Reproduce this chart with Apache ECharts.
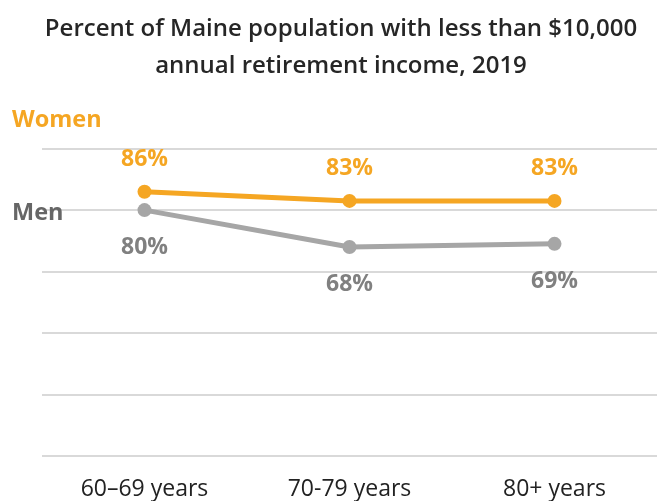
<!DOCTYPE html>
<html>
<head>
<meta charset="utf-8">
<script src="https://cdn.jsdelivr.net/npm/echarts@6/dist/echarts.min.js"></script>
<style>
html,body{margin:0;padding:0;background:#fff;}
#chart{width:657px;height:501px;}
</style>
</head>
<body>
<div id="chart"></div>
<script>
const titleText = 'Percent of Maine population with less than $10,000\nannual retirement income, 2019';
const categories = ['60\u201369 years', '70-79 years', '80+ years'];
const womenValues = [86, 83, 83];
const menValues = [80, 68, 69];
const yTicks = [0, 20, 40, 60, 80, 100];

const ORANGE = '#F5A623';
const GRAY = '#A6A6A6';
const FONT = '"Open Sans", sans-serif';

const chart = echarts.init(document.getElementById('chart'), null, {renderer: 'canvas'});
chart.setOption({
  animation: false,
  backgroundColor: '#ffffff',
  title: {
    text: titleText,
    left: 336,
    textAlign: 'center',
    top: 6,
    textStyle: {fontFamily: FONT, fontSize: 24, fontWeight: 600, color: '#262626', lineHeight: 37}
  },
  graphic: [
    {type: 'text', x: 12, y: 120, style: {text: 'Women', fontFamily: FONT, fontSize: 23.5, fontWeight: 'bold', fill: ORANGE, verticalAlign: 'middle'}},
    {type: 'text', x: 12, y: 213, z: 10, style: {text: 'Men', fontFamily: FONT, fontSize: 23.5, fontWeight: 'bold', fill: '#666666', verticalAlign: 'middle'}}
  ],
  grid: {left: 42, right: 0, top: 148.7, bottom: 45.3, containLabel: false},
  xAxis: {
    type: 'category',
    data: categories,
    boundaryGap: true,
    axisLine: {show: false},
    axisTick: {show: false},
    axisLabel: {fontFamily: FONT, fontSize: 23, color: '#222222', margin: 22}
  },
  yAxis: {
    type: 'value',
    min: yTicks[0],
    max: yTicks[yTicks.length - 1],
    interval: 20,
    axisLabel: {show: false},
    axisLine: {show: false},
    axisTick: {show: false},
    splitLine: {lineStyle: {color: '#D9D9D9', width: 2}}
  },
  series: [
    {
      name: 'Men',
      type: 'line',
      data: menValues,
      symbol: 'circle',
      symbolSize: 14,
      itemStyle: {color: GRAY},
      lineStyle: {color: GRAY, width: 5},
      label: {show: true, position: 'bottom', distance: 19, formatter: '{c}%', fontFamily: FONT, fontSize: 23, fontWeight: 'bold', color: '#808080'},
      z: 3
    },
    {
      name: 'Women',
      type: 'line',
      data: womenValues,
      symbol: 'circle',
      symbolSize: 14,
      itemStyle: {color: ORANGE},
      lineStyle: {color: ORANGE, width: 5},
      label: {show: true, position: 'top', distance: 14, formatter: '{c}%', fontFamily: FONT, fontSize: 23, fontWeight: 'bold', color: ORANGE},
      z: 4
    }
  ]
});
</script>
</body>
</html>
